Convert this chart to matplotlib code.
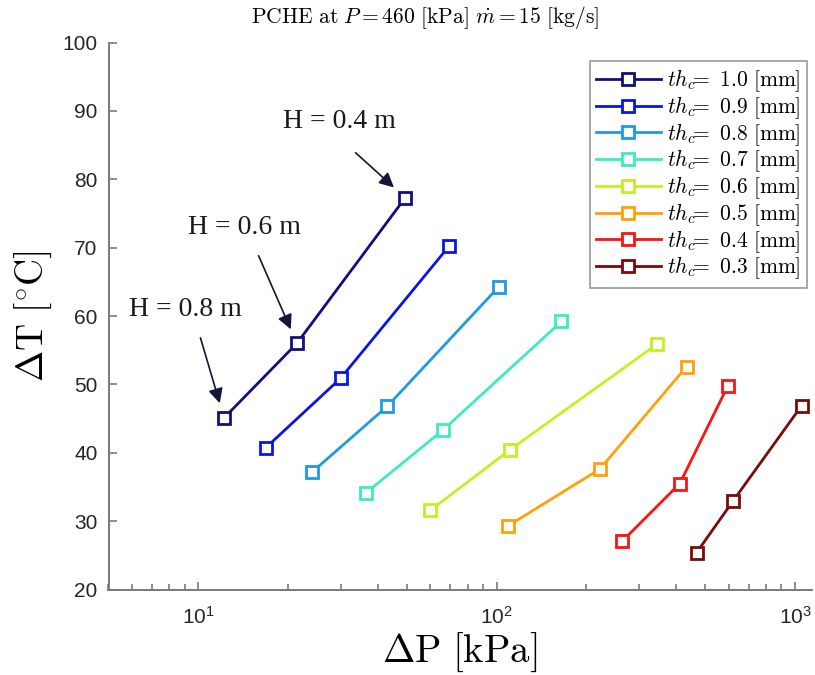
import matplotlib
matplotlib.use('Agg')
import matplotlib.pyplot as plt
import numpy as np

plt.rcParams['font.family'] = ['Liberation Sans', 'DejaVu Sans']
plt.rcParams['mathtext.fontset'] = 'cm'

# wall thickness of each curve [mm]
thickness = ['1.0', '0.9', '0.8', '0.7', '0.6', '0.5', '0.4', '0.3']
colors = ['#10107a', '#0a14e6', '#1e9be6', '#3cecc0',
          '#c4f020', '#ffa00a', '#fa1414', '#7a0a0a']

# three points per curve: H = 0.8, 0.6, 0.4 m
heights = ['H = 0.8 m', 'H = 0.6 m', 'H = 0.4 m']
dp = [
    [12.2, 21.4, 49.4],
    [16.8, 30.0, 69.2],
    [24.1, 43.0, 101.8],
    [36.4, 66.0, 164.9],
    [60.0, 110.6, 345.0],
    [109.1, 221.6, 433.0],
    [264.0, 411.0, 594.0],
    [468.0, 621.0, 1053.0],
]
dt = [
    [45.1, 56.0, 77.3],
    [40.7, 50.9, 70.2],
    [37.2, 46.8, 64.3],
    [34.1, 43.3, 59.2],
    [31.6, 40.4, 55.9],
    [29.3, 37.6, 52.6],
    [27.1, 35.5, 49.7],
    [25.4, 33.0, 46.9],
]


def main():
    fig = plt.figure(figsize=(8.15, 6.75), dpi=100)
    ax = fig.add_axes([108.5 / 815, 1 - 589.5 / 675,
                       (812 - 108.5) / 815, (589.5 - 42.5) / 675])

    for th, c, x, y in zip(thickness, colors, dp, dt):
        ax.plot(x, y, '-s', color=c, lw=2.0, ms=8.5, mew=2.0,
                mfc='white', mec=c,
                label=r'$th_c\!\!=\ %s\ [\mathrm{mm}]$' % th)

    ax.set_xscale('log')
    ax.set_xlim(5, 1140)
    ax.set_ylim(20, 100)
    ax.set_yticks(np.arange(20, 101, 10))

    for s in ['top', 'right']:
        ax.spines[s].set_visible(False)
    for s in ['left', 'bottom']:
        ax.spines[s].set_color('#7a7a7a')
        ax.spines[s].set_linewidth(1.4)
    ax.tick_params(which='both', direction='in', colors='#7a7a7a',
                   labelcolor='#262626', labelsize=15, width=1.2)
    ax.tick_params(which='major', length=6)
    ax.tick_params(which='minor', length=4)
    ax.tick_params(axis='y', pad=8)
    ax.tick_params(axis='x', pad=12)

    ax.set_xlabel(r'$\Delta\mathrm{P}\ [\mathrm{kPa}]$', fontsize=28,
                  labelpad=2)
    ax.set_ylabel(r'$\Delta\mathrm{T}\ [^{\circ}\mathrm{C}]$', fontsize=27,
                  labelpad=6)
    ax.set_title(r'$\mathrm{PCHE\ at\ }P = 460\ [\mathrm{kPa}]\ '
                 r'\dot{m} = 15\ [\mathrm{kg/s}]$',
                 fontsize=15.5, x=0.45, pad=14)

    # arrows to the three points of the thickest plate curve
    text_off = [(-27.6, 78), (-37.4, 83.5), (-47.3, 54.7)]
    arrow_off = [(-17, 57.6), (-27.6, 63.1), (-35.8, 32.4)]
    for i, lab in enumerate(heights):
        pt = (dp[0][i], dt[0][i])
        ax.annotate(lab, xy=pt, xytext=text_off[i],
                    textcoords='offset points', ha='center', va='center',
                    fontsize=20, family='Liberation Serif', color='#1a1a1a')
        ax.annotate('', xy=pt, xytext=arrow_off[i],
                    textcoords='offset points',
                    arrowprops=dict(arrowstyle='-|>', color='#14143c',
                                    lw=1.2, mutation_scale=22,
                                    shrinkA=0, shrinkB=11))

    leg = ax.legend(loc='upper right', bbox_to_anchor=(807 / 815, 1 - 61 / 675),
                    bbox_transform=fig.transFigure, borderaxespad=0,
                    fontsize=15.5, fancybox=False, handlelength=3.0,
                    handletextpad=0.3, labelspacing=0.0, borderpad=0.3)
    leg.get_frame().set_edgecolor('#808080')
    leg.get_frame().set_linewidth(1.2)

    fig.savefig('out.png', dpi=100)


if __name__ == '__main__':
    main()
